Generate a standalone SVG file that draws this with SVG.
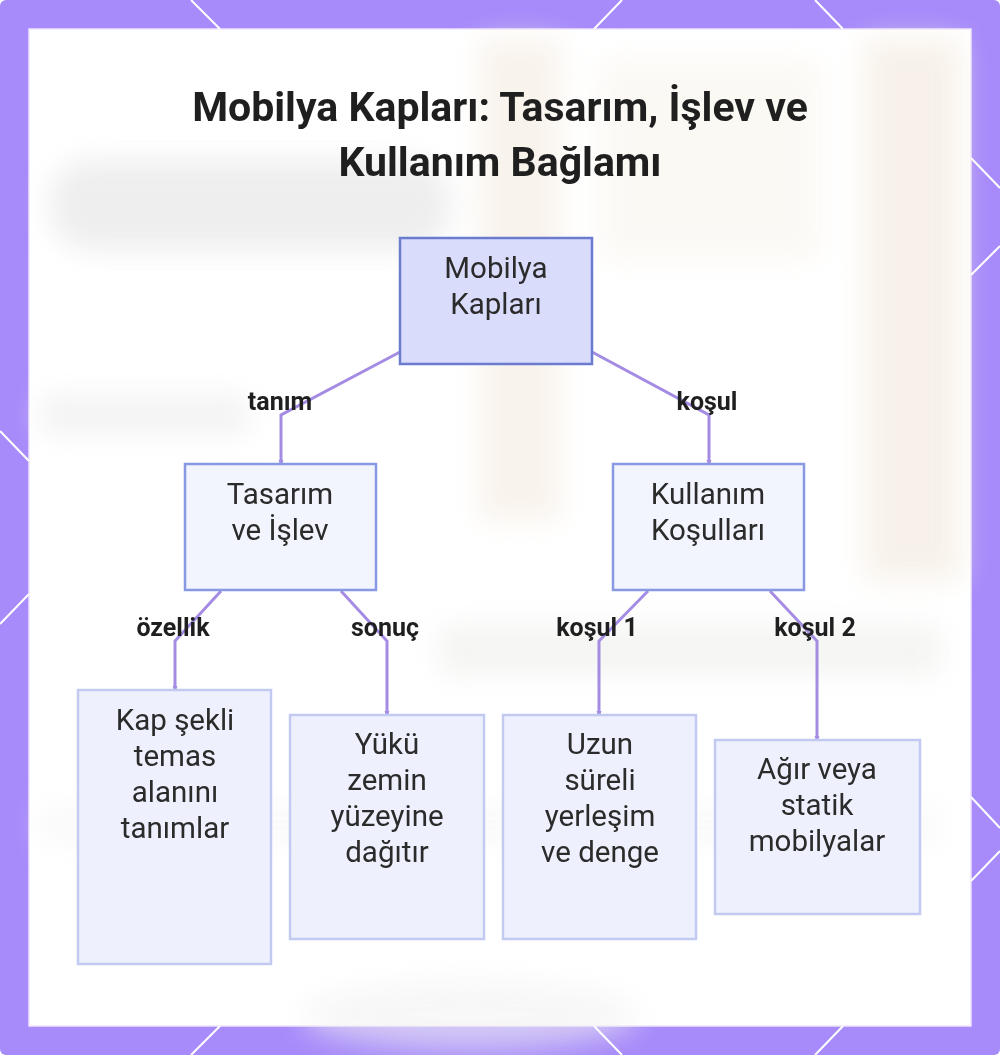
<svg xmlns="http://www.w3.org/2000/svg" width="1000" height="1055" viewBox="0 0 1000 1055">
<defs>
<filter id="blur" x="-20%" y="-20%" width="140%" height="140%"><feGaussianBlur stdDeviation="14"/></filter>
<marker id="arr" markerWidth="6" markerHeight="6" refX="3" refY="3" orient="auto" markerUnits="userSpaceOnUse"><path d="M0,0.5 L6,3 L0,5.5 Z" fill="#a48ce4"/></marker>
<style>
.frame{fill:#a78bfa}
.deco{stroke:#ffffff;stroke-width:2;fill:none}
.title{font-family:Roboto,"Liberation Sans",sans-serif;font-weight:700;font-size:41px;fill:#1f1f1f;text-anchor:middle}
.nt{font-family:Roboto,"Liberation Sans",sans-serif;font-size:29.5px;fill:#2b2b2b;text-anchor:middle}
.lbl{font-family:Roboto,"Liberation Sans",sans-serif;font-weight:700;font-size:25px;fill:#1f1f1f;text-anchor:middle}
.root{fill:#d9dcfb;stroke:#6b7bcf;stroke-width:2.5}
.mid{fill:#f2f4fe;stroke:#8898e2;stroke-width:2.5}
.leaf{fill:#eef1fd;stroke:#c3caf1;stroke-width:2.5}
.edge{fill:none;stroke:#a48ce4;stroke-width:3;marker-end:url(#arr)}
</style>
</defs>
<rect class="frame" x="0" y="0" width="1000" height="1055" rx="6"/>
<rect x="29" y="29" width="942" height="997" fill="#ffffff" stroke="#efe4fb" stroke-width="1.5"/>
<g filter="url(#blur)" opacity="0.85">
<rect x="480" y="40" width="80" height="480" fill="#f7f1e8"/>
<rect x="865" y="40" width="95" height="540" fill="#f6efe5"/>
<rect x="600" y="60" width="220" height="200" fill="#fbf8f3"/>
<rect x="50" y="160" width="400" height="90" rx="40" fill="#ebebeb"/>
<rect x="40" y="395" width="210" height="40" rx="15" fill="#f1f1f1"/>
<rect x="440" y="625" width="500" height="50" fill="#f3f3f1"/>
<rect x="40" y="805" width="900" height="40" fill="#f5f5f5" opacity="0.6"/>
<ellipse cx="470" cy="1015" rx="170" ry="35" fill="#f2f2f2" opacity="0.7"/>
</g>
<g id="deco">
<path class="deco" d="M191,0 L220,29 M622,0 L594,29 M815,0 L843,29"/>
<path class="deco" d="M220,1026 L191,1055 M594,1026 L622,1055 M843,1026 L815,1055"/>
<path class="deco" d="M0,431 L29,461 M29,594 L0,624"/>
<path class="deco" d="M971,158 L1000,188 M1000,246 L971,275 M971,797 L1000,828 M1000,851 L971,881"/>
</g>
<g id="title">
<text class="title" x="500" y="121">Mobilya Kapları: Tasarım, İşlev ve</text>
<text class="title" x="500" y="176">Kullanım Bağlamı</text>
</g>
<g id="connectors">
<path class="edge" d="M400,352 L281,415 L281,463"/>
<path class="edge" d="M592,352 L709,415 L709,463"/>
<path class="edge" d="M221,591 L175,641 L175,689"/>
<path class="edge" d="M341,591 L387,641 L387,714"/>
<path class="edge" d="M648,591 L599,641 L599,714"/>
<path class="edge" d="M770,591 L817,641 L817,739"/>
<text class="lbl" x="280" y="410">tanım</text>
<text class="lbl" x="707" y="410">koşul</text>
<text class="lbl" x="173" y="636">özellik</text>
<text class="lbl" x="385" y="636">sonuç</text>
<text class="lbl" x="597" y="636">koşul 1</text>
<text class="lbl" x="815" y="636">koşul 2</text>
</g>
<g id="n-root">
<rect class="root" x="400" y="238" width="192" height="126"/>
<text class="nt" x="496" y="278">Mobilya</text>
<text class="nt" x="496" y="314">Kapları</text>
</g>
<g id="n-tasarim">
<rect class="mid" x="185" y="464" width="191" height="126"/>
<text class="nt" x="280" y="504">Tasarım</text>
<text class="nt" x="280" y="540">ve İşlev</text>
</g>
<g id="n-kullanim">
<rect class="mid" x="613" y="464" width="191" height="126"/>
<text class="nt" x="708" y="504">Kullanım</text>
<text class="nt" x="708" y="540">Koşulları</text>
</g>
<g id="n-kap">
<rect class="leaf" x="78" y="690" width="193" height="274"/>
<text class="nt" x="175" y="730">Kap şekli</text>
<text class="nt" x="175" y="766">temas</text>
<text class="nt" x="175" y="802">alanını</text>
<text class="nt" x="175" y="838">tanımlar</text>
</g>
<g id="n-yuku">
<rect class="leaf" x="290" y="715" width="194" height="224"/>
<text class="nt" x="387" y="754">Yükü</text>
<text class="nt" x="387" y="790">zemin</text>
<text class="nt" x="387" y="826">yüzeyine</text>
<text class="nt" x="387" y="862">dağıtır</text>
</g>
<g id="n-uzun">
<rect class="leaf" x="503" y="715" width="193" height="224"/>
<text class="nt" x="600" y="754">Uzun</text>
<text class="nt" x="600" y="790">süreli</text>
<text class="nt" x="600" y="826">yerleşim</text>
<text class="nt" x="600" y="862">ve denge</text>
</g>
<g id="n-agir">
<rect class="leaf" x="715" y="740" width="205" height="174"/>
<text class="nt" x="817" y="779">Ağır veya</text>
<text class="nt" x="817" y="815">statik</text>
<text class="nt" x="817" y="851">mobilyalar</text>
</g>
</svg>
